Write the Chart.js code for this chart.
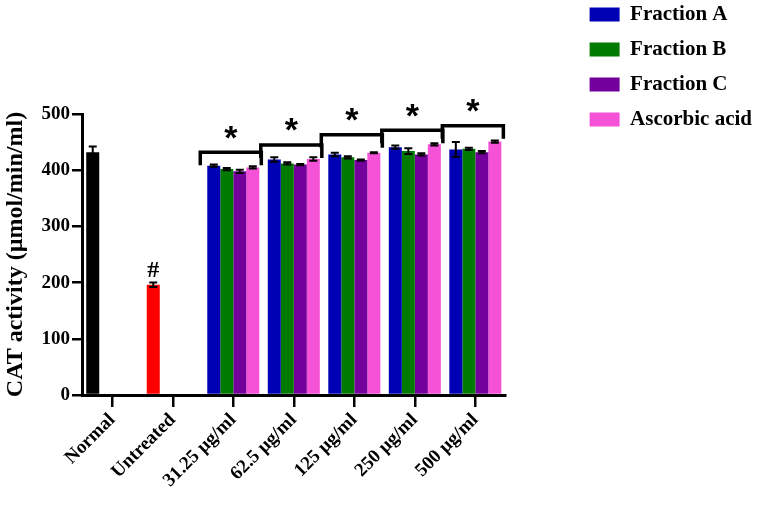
<!DOCTYPE html>
<html>
<head>
<meta charset="utf-8">
<script src="https://cdn.jsdelivr.net/npm/chart.js@4.4.1/dist/chart.umd.min.js"></script>
<style>
  html, body { margin: 0; padding: 0; background: #fff; }
  #wrap { width: 762px; height: 505px; }
</style>
</head>
<body>
<div id="wrap"><canvas id="catChart"></canvas></div>
<script>
// groups on the x axis
const groups = ["Normal", "Untreated", "31.25 µg/ml", "62.5 µg/ml", "125 µg/ml", "250 µg/ml", "500 µg/ml"];
const seriesNames = ["Fraction A", "Fraction B", "Fraction C", "Ascorbic acid"];

// Normal / Untreated sit in the first slot (Fraction A dataset), drawn black / red
const fractionA = [432, 196, 408, 419, 428, 441, 437];
const fractionAErr = [10, 4, 2, 4, 3, 3, 13];
const fractionB = [null, null, 402, 412, 423, 434, 438];
const fractionBErr = [null, null, 2, 2, 2, 5, 2];
const fractionC = [null, null, 398, 410, 418, 428, 432];
const fractionCErr = [null, null, 3, 1, 1, 2, 2];
const ascorbic = [null, null, 405, 420, 431, 446, 451];
const ascorbicErr = [null, null, 2, 3, 1, 2, 2];

// significance marks
const bracketTops = [null, null, 432, 445, 463, 471, 479];
const hashMarks = [null, "#", null, null, null, null, null];

const yTicks = [0, 100, 200, 300, 400, 500];

const colors = ["#0000b4", "#007a00", "#74009c", "#f552d8"];
const controlColors = ["#000000", "#ff0000"];
const serif = "'Liberation Serif', 'Times New Roman', serif";

const values = [fractionA, fractionB, fractionC, ascorbic];
const errors = [fractionAErr, fractionBErr, fractionCErr, ascorbicErr];

const annotations = {
  id: "annotations",
  afterDatasetsDraw(chart) {
    const { ctx } = chart;
    const y = chart.scales.y;
    ctx.save();
    ctx.strokeStyle = "#000";
    ctx.fillStyle = "#000";

    // error bars
    values.forEach((vals, d) => {
      const meta = chart.getDatasetMeta(d);
      meta.data.forEach((bar, i) => {
        if (vals[i] == null) return;
        const top = y.getPixelForValue(vals[i] + errors[d][i]);
        const bot = y.getPixelForValue(vals[i] - errors[d][i]);
        ctx.lineWidth = 2;
        ctx.beginPath();
        ctx.moveTo(bar.x, top); ctx.lineTo(bar.x, bot);
        ctx.moveTo(bar.x - 4, top); ctx.lineTo(bar.x + 4, top);
        ctx.moveTo(bar.x - 4, bot); ctx.lineTo(bar.x + 4, bot);
        ctx.stroke();
      });
    });

    // brackets + asterisks
    const first = chart.getDatasetMeta(0).data;
    const last = chart.getDatasetMeta(3).data;
    bracketTops.forEach((v, i) => {
      if (v == null) return;
      const x0 = first[i].x - first[i].width / 2 - 7;
      const x1 = last[i].x + last[i].width / 2 + 2;
      const yy = y.getPixelForValue(v);
      ctx.lineWidth = 3.5;
      ctx.lineJoin = "miter";
      ctx.beginPath();
      ctx.moveTo(x0, yy + 13);
      ctx.lineTo(x0, yy);
      ctx.lineTo(x1, yy);
      ctx.lineTo(x1, yy + 13);
      ctx.stroke();
      ctx.font = "bold 34px 'Liberation Sans', Arial, sans-serif";
      ctx.textAlign = "center";
      ctx.textBaseline = "middle";
      ctx.fillText("*", (x0 + x1) / 2, yy - 13);
    });

    // # over untreated
    hashMarks.forEach((m, i) => {
      if (!m) return;
      const bar = first[i];
      const top = y.getPixelForValue(fractionA[i] + fractionAErr[i]);
      ctx.font = "bold 24px " + serif;
      ctx.textAlign = "center";
      ctx.textBaseline = "middle";
      ctx.fillText(m, bar.x, top - 12);
    });
    ctx.restore();
  }
};

new Chart(document.getElementById("catChart"), {
  type: "bar",
  data: {
    labels: groups,
    datasets: values.map((vals, d) => ({
      label: seriesNames[d],
      data: vals,
      backgroundColor: c => (d === 0 && c.type === "data" && c.dataIndex < 2) ? controlColors[c.dataIndex] : colors[d],
      borderWidth: 0,
      categoryPercentage: 0.86,
      barPercentage: 1.0
    }))
  },
  options: {
    responsive: true,
    maintainAspectRatio: false,
    animation: false,
    layout: { padding: { top: -10, right: 0, bottom: 0, left: 0 } },
    plugins: {
      tooltip: { enabled: false },
      legend: {
        position: "right",
        align: "start",
        labels: {
          boxWidth: 30,
          boxHeight: 14,
          padding: 14,
          color: "#000",
          font: { family: serif, size: 21, weight: "bold" },
          generateLabels: chart => Chart.defaults.plugins.legend.labels.generateLabels(chart)
            .map((item, i) => ({ ...item, fillStyle: colors[i], strokeStyle: colors[i], lineWidth: 0 }))
        }
      }
    },
    scales: {
      x: {
        type: "category",
        offset: true,
        grid: { offset: false, drawOnChartArea: false, tickLength: 12, lineWidth: 2.5, color: "#000" },
        border: { color: "#000", width: 3 },
        ticks: {
          color: "#000",
          autoSkip: false,
          maxRotation: 45,
          minRotation: 45,
          padding: 2,
          font: { family: serif, size: 19, weight: "bold" }
        },
        afterFit: s => { s.height = 110; }
      },
      xTop: {
        type: "category",
        position: "top",
        display: false,
        labels: [""],
        afterFit: s => { s.height = 124; }
      },
      y: {
        min: 0,
        max: 500,
        afterBuildTicks: s => { s.ticks = yTicks.map(v => ({ value: v })); },
        grid: { drawOnChartArea: false, tickLength: 10, lineWidth: 2.5, color: "#000" },
        border: { color: "#000", width: 3 },
        ticks: {
          color: "#000",
          padding: 2,
          font: { family: serif, size: 19, weight: "bold" }
        },
        title: {
          display: true,
          text: "CAT activity (µmol/min/ml)",
          color: "#000",
          padding: { top: 1, bottom: 2 },
          font: { family: serif, size: 24, weight: "bold" }
        },
        afterFit: s => { s.width = 82; }
      },
      yRight: {
        type: "linear",
        position: "right",
        display: false,
        afterFit: s => { s.width = 70; }
      }
    }
  },
  plugins: [annotations]
});
</script>
</body>
</html>
